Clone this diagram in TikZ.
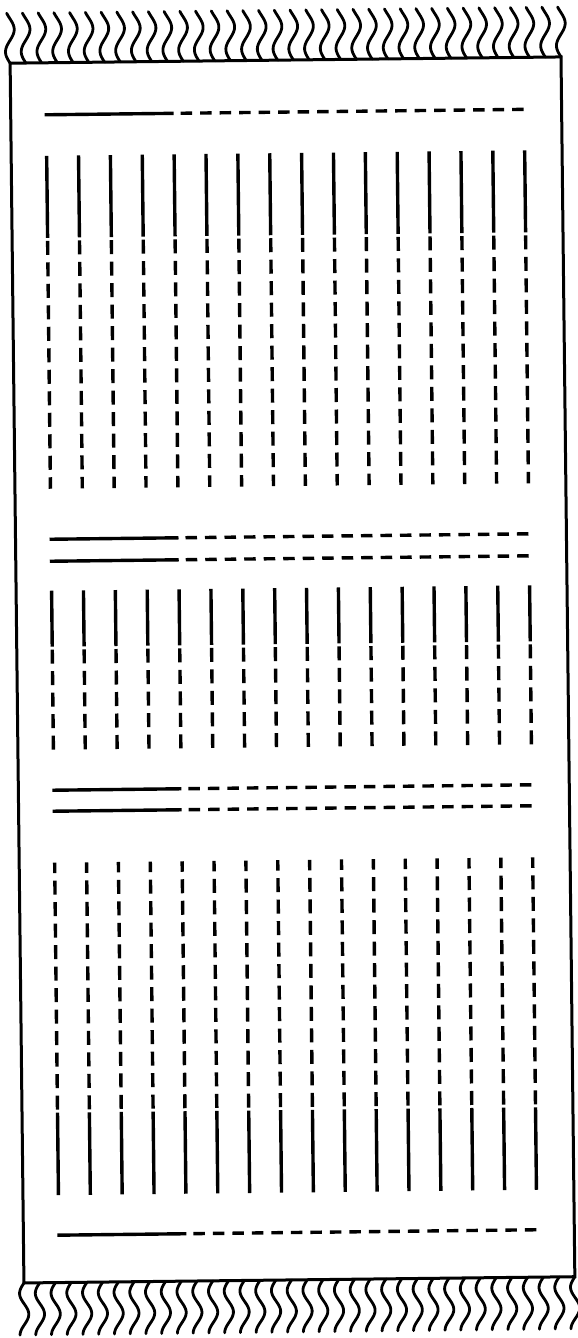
\documentclass[tikz,border=0pt]{standalone}
\usepackage{tikz}
\usetikzlibrary{calc}
\begin{document}
\begin{tikzpicture}[
  x=1pt,y=-1pt,
  edge/.style={line width=3pt, line join=miter},
  warp/.style={line width=3.4pt},
  warpdash/.style={line width=3.4pt, dash pattern=on 14pt off 7.5pt},
  weft/.style={line width=3.4pt},
  weftdash/.style={line width=3.4pt, dash pattern=on 11.5pt off 8pt},
  tassel/.style={line width=2.8pt, line cap=round}
]
\useasboundingbox (0,0) rectangle (578,1338);
\begin{scope}[rotate around={0.65:(292.5,670)}]
\coordinate (tl) at (17,60);
\coordinate (tr) at (568,60);
\coordinate (br) at (568,1280);
\coordinate (bl) at (17,1280);
% fringe
\foreach \i in {0,...,35}{
  \draw[tassel] plot[domain=0:1, samples=30, smooth] ({17+15.743*\i-4.5*sin(400*\x)},{60-50*\x});
  \draw[tassel] plot[domain=0:1, samples=30, smooth] ({17+15.743*\i-4.5*sin(450*\x)},{1280+52*\x});
}
\draw[edge] (tl) -- (tr) -- (br) -- (bl) -- cycle;
% horizontal bands
\foreach \y in {112,536.5,558.5,787.5,808.5,1232.5}{
  \draw[weft] (51,\y) -- (180,\y);
  \draw[weftdash] (187,\y) -- (531,\y);
}
% vertical lines
\foreach \i in {0,...,15}{
  \pgfmathsetmacro\xx{52.5+31.87*\i}
  \draw[warp] (\xx,153) -- (\xx,235);
  \draw[warpdash] (\xx,238) -- (\xx,486);
  \draw[warp] (\xx,588) -- (\xx,644);
  \draw[warpdash] (\xx,647) -- (\xx,750);
  \draw[warpdash] (\xx,1107) -- (\xx,860);
  \draw[warp] (\xx,1110) -- (\xx,1192.5);
}
\end{scope}
\end{tikzpicture}
\end{document}
